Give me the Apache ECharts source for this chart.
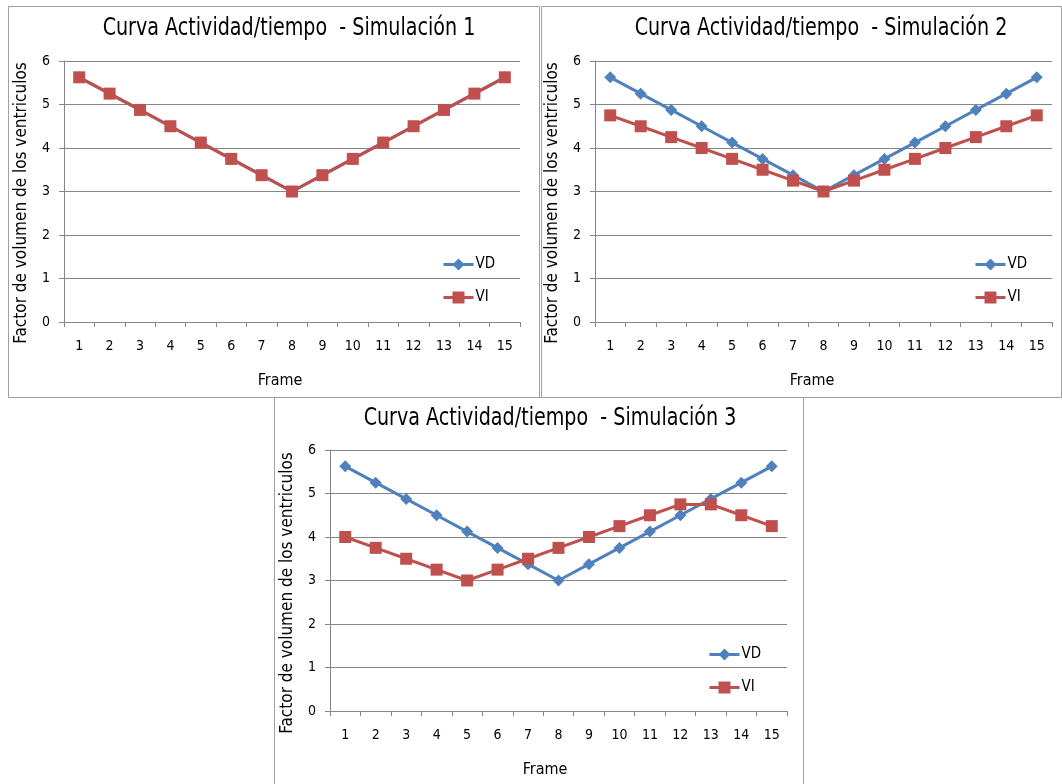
<!DOCTYPE html>
<html>
<head>
<meta charset="utf-8">
<script src="https://cdn.jsdelivr.net/npm/echarts@6/dist/echarts.min.js"></script>
<style>
html,body{margin:0;padding:0;background:#fff;}
#c{width:1062px;height:784px;}
</style>
</head>
<body>
<div id="c"></div>
<script>
const frames = ['1','2','3','4','5','6','7','8','9','10','11','12','13','14','15'];
const yTicks = [0,1,2,3,4,5,6];
const vd1 = [5.625,5.25,4.875,4.5,4.125,3.75,3.375,3,3.375,3.75,4.125,4.5,4.875,5.25,5.625];
const vi1 = [5.625,5.25,4.875,4.5,4.125,3.75,3.375,3,3.375,3.75,4.125,4.5,4.875,5.25,5.625];
const vd2 = [5.625,5.25,4.875,4.5,4.125,3.75,3.375,3,3.375,3.75,4.125,4.5,4.875,5.25,5.625];
const vi2 = [4.75,4.5,4.25,4,3.75,3.5,3.25,3,3.25,3.5,3.75,4,4.25,4.5,4.75];
const vd3 = [5.625,5.25,4.875,4.5,4.125,3.75,3.375,3,3.375,3.75,4.125,4.5,4.875,5.25,5.625];
const vi3 = [4,3.75,3.5,3.25,3,3.25,3.5,3.75,4,4.25,4.5,4.75,4.75,4.5,4.25];
const titles = ['Curva Actividad/tiempo  - Simulación 1','Curva Actividad/tiempo  - Simulación 2','Curva Actividad/tiempo  - Simulación 3'];
const seriesNames = ['VD','VI'];
const xName = 'Frame';
const yName = 'Factor de volumen de los ventriculos';

const FONT = "'Liberation Sans Narrow','DejaVu Sans Condensed',sans-serif";
const BLUE = '#4F81BD', RED = '#C0504D', GRID = '#868686';

const panels = [
  {box:[8,6,531,391], grid:{left:64,top:61,width:456,height:261}, title:[289,28], xn:[280,381], yn:[22,203], legend:[442,257], vd:vd1, vi:vi1},
  {box:[541,6,520,391], grid:{left:595,top:61,width:457,height:261}, title:[821,28], xn:[812,381], yn:[553,203], legend:[974,257], vd:vd2, vi:vi2},
  {box:[274,397,529,400], grid:{left:330,top:450,width:457,height:261}, title:[550,418], xn:[545,770], yn:[288,593], legend:[708,647], vd:vd3, vi:vi3}
];

const option = {
  animation:false,
  backgroundColor:'#fff',
  textStyle:{fontFamily:FONT},
  grid:[], xAxis:[], yAxis:[], series:[], legend:[], graphic:[]
};

panels.forEach((p,i)=>{
  option.graphic.push({type:'rect', shape:{x:p.box[0]+0.5,y:p.box[1]+0.5,width:p.box[2],height:p.box[3]}, style:{fill:'none',stroke:'#a0a0a0',lineWidth:1}, z:-1});
  option.graphic.push({type:'text', x:p.title[0], y:p.title[1], scaleX:0.85, style:{text:titles[i], font:'25px '+FONT, fill:'#000', textAlign:'center', textVerticalAlign:'middle'}});
  option.graphic.push({type:'text', x:p.xn[0], y:p.xn[1], style:{text:xName, font:'16px '+FONT, fill:'#000', textAlign:'center', textVerticalAlign:'middle'}});
  option.graphic.push({type:'text', x:p.yn[0], y:p.yn[1], rotation:Math.PI/2, style:{text:yName, font:'17px '+FONT, fill:'#000', textAlign:'center', textVerticalAlign:'middle'}});
  option.grid.push(Object.assign({containLabel:false}, p.grid));
  option.xAxis.push({type:'category', gridIndex:i, data:frames, boundaryGap:true,
    axisLine:{show:true, lineStyle:{color:GRID,width:1}},
    axisTick:{show:true, length:5, lineStyle:{color:GRID}},
    axisLabel:{margin:17, fontSize:14, color:'#000', fontFamily:FONT, interval:0},
    splitLine:{show:false}});
  option.yAxis.push({type:'value', gridIndex:i, min:yTicks[0], max:yTicks[yTicks.length-1], interval:1,
    axisLine:{show:true, lineStyle:{color:GRID,width:1}},
    axisTick:{show:true, length:5, lineStyle:{color:GRID}},
    axisLabel:{margin:14, fontSize:14, color:'#000', fontFamily:FONT},
    splitLine:{show:true, lineStyle:{color:GRID,width:1}}});
  option.series.push({name:seriesNames[0], type:'line', xAxisIndex:i, yAxisIndex:i, data:p.vd,
    symbol:'diamond', symbolSize:12, color:BLUE, lineStyle:{width:3,color:BLUE}, itemStyle:{color:BLUE}});
  option.series.push({name:seriesNames[1], type:'line', xAxisIndex:i, yAxisIndex:i, data:p.vi,
    symbol:'rect', symbolSize:12, color:RED, lineStyle:{width:3,color:RED}, itemStyle:{color:RED}});
  option.legend.push({orient:'vertical', left:p.legend[0], top:p.legend[1], data:seriesNames,
    itemWidth:30, itemHeight:15, itemGap:18, padding:0,
    lineStyle:{width:3},
    textStyle:{fontSize:15, color:'#000', fontFamily:FONT, padding:[0,0,0,-3]},
    selectedMode:false});
});

const chart = echarts.init(document.getElementById('c'), null, {renderer:'canvas'});
chart.setOption(option);
</script>
</body>
</html>
